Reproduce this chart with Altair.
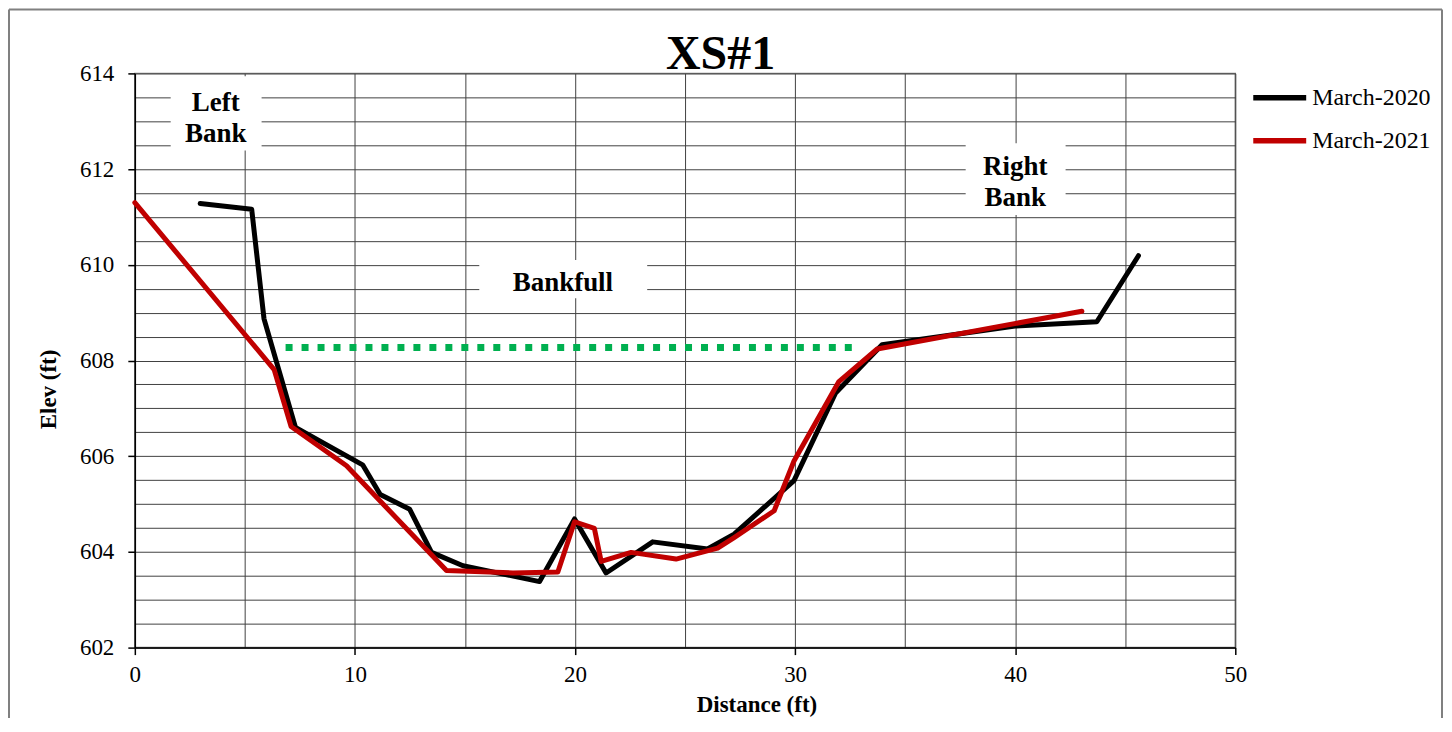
import altair as alt
import pandas as pd

# ---------------- data ----------------
series_names = ["March-2020", "March-2021"]
series_colors = ["#000000", "#C00000"]

dist_2020 = [2.97, 5.31, 5.87, 7.3, 10.35, 11.15, 12.49, 13.48, 14.91, 18.39, 19.98,
             21.41, 23.53, 26.02, 27.23, 29.95, 31.84, 33.95, 40.0, 43.71, 45.6]
elev_2020 = [611.28, 611.16, 608.87, 606.6, 605.82, 605.2, 604.89, 603.99, 603.71, 603.38, 604.69,
             603.56, 604.21, 604.06, 604.37, 605.49, 607.32, 608.33, 608.72, 608.81, 610.19]

dist_2021 = [0.0, 6.33, 7.1, 9.62, 14.16, 17.18, 19.22, 19.98, 20.88, 21.19, 22.55,
             24.59, 26.48, 27.23, 29.05, 29.95, 31.99, 33.73, 43.03]
elev_2021 = [611.3, 607.81, 606.62, 605.8, 603.61, 603.56, 603.58, 604.63, 604.49, 603.8, 603.99,
             603.85, 604.08, 604.3, 604.86, 605.9, 607.56, 608.24, 609.03]

bankfull_dist = [6.85, 32.6]
bankfull_elev = [608.27, 608.27]

note_text = ["Left", "Bank", "Right", "Bank", "Bankfull"]
note_dist = [3.68, 3.68, 40.0, 40.0, 19.45]
note_elev = [613.21, 612.57, 611.87, 611.22, 609.45]

box_dist1 = [1.63, 37.75, 15.65]
box_dist2 = [5.76, 42.29, 23.28]
box_elev1 = [612.39, 611.04, 609.30]
box_elev2 = [613.94, 612.54, 610.10]

x_grid = [0, 5, 10, 15, 20, 25, 30, 35, 40, 45, 50]
y_grid = [602 + 0.5 * i for i in range(25)]

# ---------------- tables ----------------
rows = []
for name, ds, es in [(series_names[0], dist_2020, elev_2020), (series_names[1], dist_2021, elev_2021)]:
    for i, (d, e) in enumerate(zip(ds, es)):
        rows.append({"series": name, "dist": d, "elev": e, "idx": i})
lines_df = pd.DataFrame(rows)
bank_df = pd.DataFrame({"dist": bankfull_dist, "elev": bankfull_elev})
note_df = pd.DataFrame({"txt": note_text, "dist": note_dist, "elev": note_elev})
box_df = pd.DataFrame({"dist": box_dist1, "dist2": box_dist2, "elev": box_elev1, "elev2": box_elev2})

FONT = "Liberation Serif"

xscale = alt.Scale(domain=[0, 50], nice=False, zero=False)
yscale = alt.Scale(domain=[602, 614], nice=False, zero=False)

xaxis = alt.Axis(
    values=x_grid, title="Distance (ft)", grid=True, format="d",
    labelExpr="datum.value % 10 === 0 ? datum.label : ''",
    tickOpacity={"condition": {"test": "datum.value % 10 === 0", "value": 1}, "value": 0},
    tickSize=7, labelPadding=9, labelFlush=False, labelOverlap=False,
    titleX=622.5, titleY=64, titleAlign="center", titleBaseline="alphabetic",
)
yaxis = alt.Axis(
    values=y_grid, title="Elev (ft)", grid=True, format=".0f",
    labelExpr="datum.value % 2 === 0 ? datum.label : ''",
    tickOpacity={"condition": {"test": "datum.value % 2 === 0", "value": 1}, "value": 0},
    tickSize=7, labelPadding=14, labelFlush=False, labelOverlap=False,
    titleAngle=270, titleX=-79, titleY=316, titleAlign="center", titleBaseline="alphabetic",
)

X = alt.X("dist:Q", scale=xscale, axis=xaxis)
Y = alt.Y("elev:Q", scale=yscale, axis=yaxis)

boxes = alt.Chart(box_df).mark_rect(fill="white", stroke=None).encode(
    x=X, x2=alt.X2("dist2:Q"), y=Y, y2=alt.Y2("elev2:Q")
)

notes = alt.Chart(note_df).mark_text(
    font=FONT, fontSize=27, fontWeight="bold", color="black",
    align="center", baseline="alphabetic"
).encode(x=X, y=Y, text="txt:N")

bankfull = alt.Chart(bank_df).mark_line(
    color="#00B050", strokeWidth=7, strokeDash=[7, 9], strokeCap="butt"
).encode(x=X, y=Y)

lines = alt.Chart(lines_df).mark_line(strokeWidth=5, strokeJoin="round", strokeCap="round").encode(
    x=X, y=Y,
    color=alt.Color(
        "series:N",
        scale=alt.Scale(domain=series_names, range=series_colors),
        legend=alt.Legend(
            title=None, orient="none", legendX=1117, legendY=-5,
            symbolType="stroke", symbolStrokeWidth=5.5, symbolSize=2809,
            labelFont=FONT, labelFontSize=24, labelColor="black",
            labelOffset=3, rowPadding=1, padding=0,
        ),
    ),
    order="idx:Q",
)

one = alt.Data(values=[{"k": 1}])
border_left = alt.Chart(one).mark_rule(color="#808080", strokeWidth=2).encode(
    x=alt.value(-126), y=alt.value(-64), y2=alt.value(650))
border_right = alt.Chart(one).mark_rule(color="#808080", strokeWidth=2).encode(
    x=alt.value(1309), y=alt.value(-64), y2=alt.value(650))
border_top = alt.Chart(one).mark_rule(color="#808080", strokeWidth=2).encode(
    x=alt.value(-126), x2=alt.value(1309), y=alt.value(-64))

chart = alt.layer(
    boxes, notes, bankfull, lines, border_left, border_right, border_top
).properties(
    width=1102, height=575,
    title=alt.TitleParams("XS#1", font=FONT, fontSize=48, fontWeight="bold", color="black",
                          anchor="middle", dx=35.5, dy=109, offset=0, baseline="alphabetic"),
    autosize=alt.AutoSizeParams(type="none"),
    padding={"left": 127, "top": 65, "right": 209, "bottom": 70},
    background="white",
).configure_view(
    stroke="#808080", strokeWidth=1.5
).configure_axis(
    domainColor="black", domainWidth=1.5, tickColor="black", tickWidth=1.5,
    gridColor="#404040", gridWidth=1,
    labelFont=FONT, labelFontSize=23, labelColor="black",
    titleFont=FONT, titleFontSize=23, titleFontWeight="bold", titleColor="black",
)

chart.save("out.html", embed_options={"renderer": "svg", "actions": False})
